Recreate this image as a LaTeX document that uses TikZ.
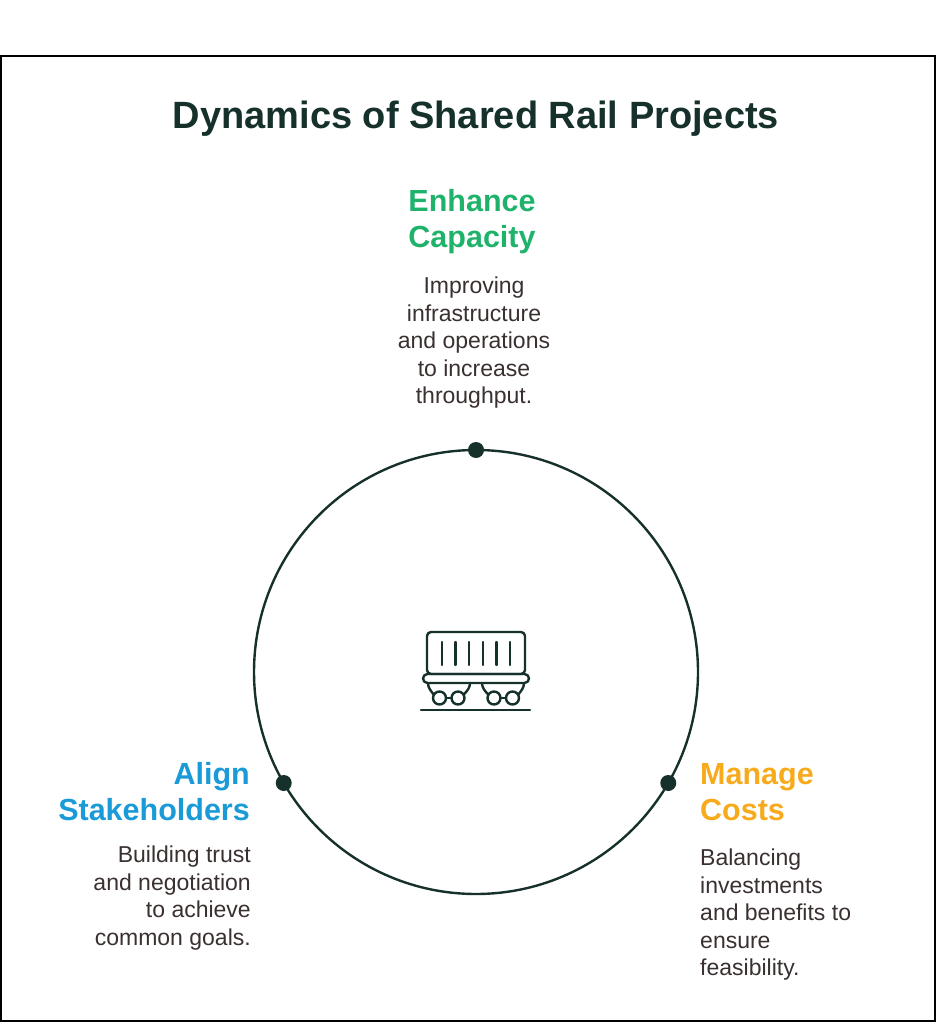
\documentclass[tikz,border=0pt]{standalone}
\usepackage{fontspec}
\setmainfont{Liberation Sans}
\definecolor{ink}{HTML}{16302B}
\definecolor{body}{HTML}{3A3030}
\definecolor{capgreen}{HTML}{1FB26B}
\definecolor{stkblue}{HTML}{1A9AD6}
\definecolor{costorange}{HTML}{F7AA1C}

\tikzset{
  head/.style={font=\bfseries\fontsize{30.5}{36}\selectfont, inner sep=0pt},
  desc/.style={font=\fontsize{23}{27.5}\selectfont, text=body, inner sep=0pt},
  dot/.style={circle, fill=ink, inner sep=0pt, minimum size=16pt},
  icon/.style={draw=ink, line width=2.4pt, line cap=round, line join=round}
}

\begin{document}
\begin{tikzpicture}[x=1pt,y=-1pt]
    \useasboundingbox (0,0) rectangle (938,1024);
    \draw[line width=2pt] (1,56) rectangle (935,1021);
    \node[font=\bfseries\fontsize{38}{44}\selectfont, text=ink] (t) at (476,119) {Dynamics of Shared Rail Projects};
    \node[draw=ink, line width=2.4pt, circle, minimum size=444pt, inner sep=0pt, outer sep=0pt] (ring) at (476,672) {};
    \node[dot] (dcap) at (ring.90) {};
    \node[dot] (dstk) at (ring.210) {};
    \node[dot] (dcost) at (ring.330) {};
    \node[head, text=capgreen, align=center] (cap) at (472,222) {Enhance\\Capacity};
    \node[desc, align=center] (capd) at (474,343) {Improving\\infrastructure\\and operations\\to increase\\throughput.};
    \node[head, text=stkblue, align=right, anchor=east] (stk) at (250,792) {Align\\Stakeholders};
    \node[desc, align=right, anchor=east] (stkd) at (251,898) {Building trust\\and negotiation\\to achieve\\common goals.};
    \node[head, text=costorange, align=left, anchor=west] (cost) at (700,792) {Manage\\Costs};
    \node[desc, align=left, anchor=west] (costd) at (700,915) {Balancing\\investments\\and benefits to\\ensure\\feasibility.};
    \begin{scope}[shift={(ring.center)}]
        \draw[icon, rounded corners=4pt] (-49,-40) rectangle (49,2);
        \foreach \i in {0,...,5}
            \draw[icon] ({-34+13.6*\i},-30) -- ({-34+13.6*\i},-7);
        \draw[icon, rounded corners=4.5pt] (-53,2) rectangle (53,11);
        \foreach \x in {-36.5,-18,18,36.5}
            \draw[icon] (\x,26) circle (6.5);
        \draw[icon] (-48,11) .. controls (-48,16) and (-45,19) .. (-42.1,22.75);
        \draw[icon] (-6,11) .. controls (-6,16) and (-9,19) .. (-12.4,22.75);
        \draw[icon] (6,11) .. controls (6,16) and (9,19) .. (12.4,22.75);
        \draw[icon] (48,11) .. controls (48,16) and (45,19) .. (42.1,22.75);
        \draw[icon] (-30,26) -- (-24.5,26);
        \draw[icon] (24.5,26) -- (30,26);
        \draw[icon] (-55,38) -- (54,38);
    \end{scope}
\end{tikzpicture}
\end{document}
